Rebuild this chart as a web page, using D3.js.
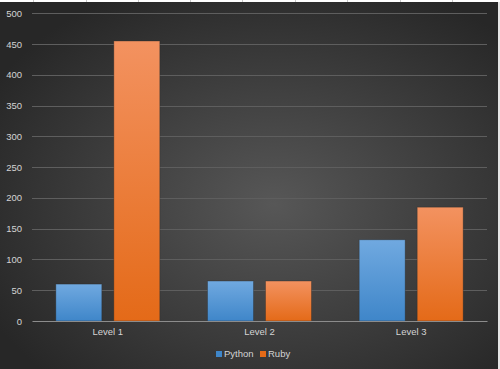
<!DOCTYPE html>
<html>
<head>
<meta charset="utf-8">
<script src="https://cdn.jsdelivr.net/npm/d3@7"></script>
<style>
  html, body { margin: 0; padding: 0; background: #ffffff; }
  svg { display: block; }
  text { font-family: "Liberation Sans", Arial, sans-serif; }
</style>
</head>
<body>
<div id="chart"></div>
<script>
const categories = ["Level 1", "Level 2", "Level 3"];
const seriesNames = ["Python", "Ruby"];
const python = [60, 65, 132];
const ruby = [455, 65, 185];
const yTicks = [0, 50, 100, 150, 200, 250, 300, 350, 400, 450, 500];

const W = 500, H = 369;
const plot = {left: 32, right: 487, top: 13.3, bottom: 321};

const svg = d3.select("#chart")
    .append("svg")
    .attr("width", W)
    .attr("height", H);

const defs = svg.append("defs");

// dark chart background
const bg = defs.append("radialGradient")
    .attr("id", "bg")
    .attr("cx", "55%").attr("cy", "55%").attr("r", "65%");
bg.append("stop").attr("offset", "0%").attr("stop-color", "#575757");
bg.append("stop").attr("offset", "100%").attr("stop-color", "#272727");

const colors = {
    Python: ["#70a9e0", "#3f86c9"],
    Ruby: ["#f39260", "#e46a18"]
};
seriesNames.forEach(s => {
    const g = defs.append("linearGradient")
        .attr("id", "grad-" + s)
        .attr("x1", 0).attr("y1", 0).attr("x2", 0).attr("y2", 1);
    g.append("stop").attr("offset", "0%").attr("stop-color", colors[s][0]);
    g.append("stop").attr("offset", "100%").attr("stop-color", colors[s][1]);
});

// spreadsheet strip behind the chart
svg.append("rect").attr("x", 0).attr("y", 0).attr("width", W).attr("height", H).attr("fill", "#e6e6e6");
svg.append("rect").attr("x", 0).attr("y", 0).attr("width", W).attr("height", 2).attr("fill", "#ffffff");
[33, 86, 138, 190, 242, 295, 347, 400, 452].forEach(x => {
    svg.append("line").attr("x1", x + 0.5).attr("x2", x + 0.5).attr("y1", 0).attr("y2", 2)
        .attr("stroke", "#c8c8c8");
});

svg.append("rect")
    .attr("x", 0).attr("y", 2)
    .attr("width", 498).attr("height", H - 2)
    .attr("fill", "url(#bg)");

const y = d3.scaleLinear()
    .domain([0, 500])
    .range([plot.bottom, plot.top]);

const x0 = d3.scaleBand()
    .domain(categories)
    .range([plot.left, plot.right])
    .padding(0);

const x1 = d3.scaleBand()
    .domain(seriesNames)
    .range([0, x0.bandwidth()])
    .paddingInner(0.207)
    .paddingOuter(0.411);

// gridlines
svg.append("g")
    .selectAll("line")
    .data(yTicks.filter(d => d > 0))
    .enter()
    .append("line")
    .attr("x1", plot.left).attr("x2", plot.right)
    .attr("y1", d => Math.round(y(d)) + 0.5)
    .attr("y2", d => Math.round(y(d)) + 0.5)
    .attr("stroke", "#5e5e5e")
    .attr("stroke-width", 1);

// y axis labels
const yAxis = d3.axisLeft(y).tickValues(yTicks).tickSize(0).tickPadding(0);
const ya = svg.append("g")
    .attr("transform", `translate(${plot.left - 10},0)`)
    .call(yAxis);
ya.select(".domain").remove();
ya.selectAll("text")
    .attr("fill", "#d4d4d4")
    .style("font-size", "9.5px");

// bars
const data = categories.map((c, i) => ({cat: c, values: [
    {series: "Python", value: python[i]},
    {series: "Ruby", value: ruby[i]}
]}));

const groups = svg.append("g")
    .selectAll("g")
    .data(data)
    .enter()
    .append("g")
    .attr("transform", d => `translate(${x0(d.cat)},0)`);

groups.selectAll("rect")
    .data(d => d.values)
    .enter()
    .append("rect")
    .attr("x", d => x1(d.series))
    .attr("y", d => y(d.value))
    .attr("width", x1.bandwidth())
    .attr("height", d => y(0) - y(d.value))
    .attr("fill", d => `url(#grad-${d.series})`)
    .attr("stroke", "rgba(40,40,40,0.45)")
    .attr("stroke-width", 0.8);

// x axis
const xAxis = d3.axisBottom(x0).tickSize(0).tickPadding(7);
const xa = svg.append("g")
    .attr("transform", `translate(0,${plot.bottom})`)
    .call(xAxis);
xa.select(".domain")
    .attr("stroke", "#8c8c8c")
    .attr("stroke-width", 1.2);
xa.selectAll("text")
    .attr("fill", "#d4d4d4")
    .style("font-size", "9.5px");

// legend
const legend = svg.append("g").attr("transform", "translate(216,354)");
const legendX = [0, 44];
seriesNames.forEach((s, i) => {
    const g = legend.append("g").attr("transform", `translate(${legendX[i]},0)`);
    g.append("rect")
        .attr("x", 0).attr("y", -3)
        .attr("width", 6).attr("height", 6)
        .attr("fill", colors[s][1]);
    g.append("text")
        .attr("x", 8).attr("y", 0)
        .attr("dy", "0.35em")
        .attr("fill", "#d4d4d4")
        .style("font-size", "9.5px")
        .text(s);
});
</script>
</body>
</html>
